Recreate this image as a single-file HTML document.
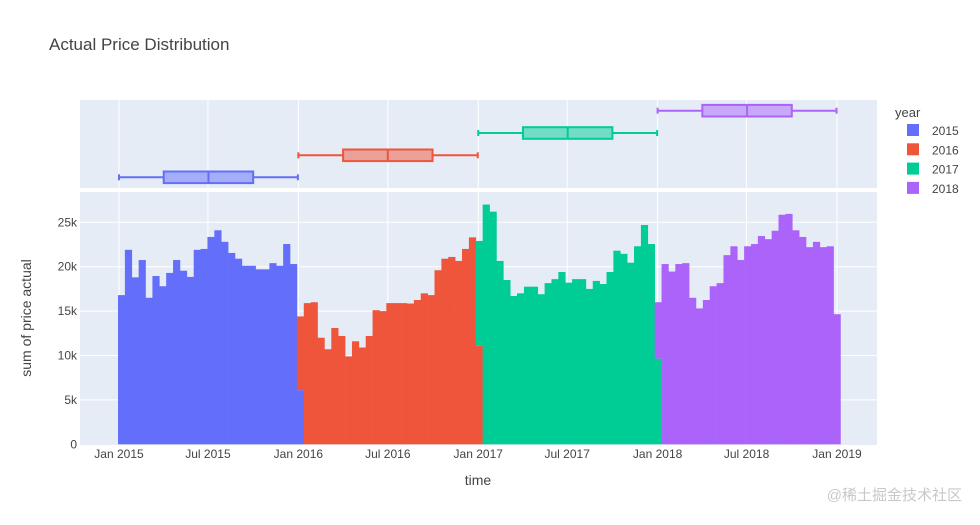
<!DOCTYPE html>
<html><head><meta charset="utf-8"><style>
body{margin:0;background:#fff;}
svg{display:block;font-family:"Liberation Sans","Noto Sans CJK SC",sans-serif;}
</style></head><body>
<svg id="c" width="980" height="525">
<text x="49" y="50" font-size="17" fill="#444">Actual Price Distribution</text>
<rect x="80" y="100" width="797" height="88" fill="#E5ECF6"/>
<rect x="80" y="192" width="797" height="253" fill="#E5ECF6"/>
<g id="grid"></g><g id="bars"></g><g id="boxes"></g><g id="axes"></g>
<text transform="translate(31,318) rotate(-90)" text-anchor="middle" font-size="14" fill="#444">sum of price actual</text>
<text x="478" y="485" text-anchor="middle" font-size="14" fill="#444">time</text>
<g>
<text x="895" y="117" font-size="13" fill="#444">year</text>
<g id="legend"></g>
</g>
<text x="962" y="500" text-anchor="end" font-size="15" fill="#c8c8c8">@稀土掘金技术社区</text>
</svg>
<script>
const years = ["2015","2016","2017","2018"];
const colors = ["#636EFA","#EF553B","#00CC96","#AB63FA"];
// values in thousands, 14-day bins starting 2014-12-30; each series starts at its bin index
const startBins = [0,26,52,78];
const y2015 = [16.8,21.9,18.8,20.75,16.5,18.95,17.8,19.3,20.75,19.55,18.85,21.9,22.0,23.35,24.1,22.8,21.55,20.9,20.1,20.1,19.7,19.7,20.4,20.1,22.55,20.3,6.1];
const y2016 = [8.3,15.9,16.0,12.0,10.7,13.1,12.2,9.9,11.6,10.9,12.2,15.1,15.0,15.9,15.9,15.9,15.85,16.25,17.0,16.8,19.6,20.9,21.1,20.65,22.0,23.3,11.1];
const y2017 = [11.8,27.0,26.2,20.65,18.5,16.7,17.0,17.75,17.75,16.9,18.15,18.6,19.4,18.2,18.6,18.6,17.5,18.4,18.05,19.4,21.8,21.45,20.45,22.3,24.7,22.55,9.65];
const y2018 = [6.35,20.3,19.45,20.3,20.4,16.5,15.3,16.25,17.8,18.15,21.3,22.3,20.75,22.3,22.55,23.45,23.1,24.05,25.85,25.95,24.1,23.35,22.2,22.8,22.2,22.3,14.65];
const yTicks = [0,5,10,15,20,25];
const yTickLabels = ["0","5k","10k","15k","20k","25k"];
const xTickDates = ["2015-01-01","2015-07-01","2016-01-01","2016-07-01","2017-01-01","2017-07-01","2018-01-01","2018-07-01","2019-01-01"];
const xTickLabels = ["Jan 2015","Jul 2015","Jan 2016","Jul 2016","Jan 2017","Jul 2017","Jan 2018","Jul 2018","Jan 2019"];
// box stats: min, q1, median, q3, max
const boxMin = ["2015-01-01","2016-01-01","2017-01-01","2018-01-01"];
const boxQ1 = ["2015-04-02","2016-04-01","2017-04-02","2018-04-02"];
const boxMed = ["2015-07-02","2016-07-01","2017-07-02","2018-07-02"];
const boxQ3 = ["2015-10-01","2016-09-30","2017-10-01","2018-10-01"];
const boxMax = ["2015-12-31","2016-12-31","2017-12-31","2018-12-31"];
const binStart = "2014-12-30", binDays = 14;

const NS="http://www.w3.org/2000/svg";
const d0=Date.parse("2015-01-01"), d1=Date.parse("2019-01-01");
function xs(d){const t=typeof d==="number"?d:Date.parse(d);return 119+(t-d0)/(d1-d0)*718;}
function ys(v){return 444.3-v*8.88;}
function mk(tag,attrs,parent){const e=document.createElementNS(NS,tag);for(const k in attrs)e.setAttribute(k,attrs[k]);parent.appendChild(e);return e;}
const grid=document.getElementById('grid'),bars=document.getElementById('bars'),boxes=document.getElementById('boxes'),axes=document.getElementById('axes'),legend=document.getElementById('legend');
xTickDates.forEach((d,i)=>{const x=xs(d);
 const l1=mk('line',{x1:x,x2:x,y1:100,y2:188,stroke:'#fff','stroke-width':1},grid);
 
 const l2=mk('line',{x1:x,x2:x,y1:192,y2:445,stroke:'#fff','stroke-width':1},grid);
 
 const t=mk('text',{x:x,y:458,'text-anchor':'middle','font-size':12,fill:'#444'},axes);t.textContent=xTickLabels[i];
 
});
yTicks.forEach((v,i)=>{const y=ys(v);
 if(v>0){const l=mk('line',{x1:80,x2:877,y1:y,y2:y,stroke:'#fff','stroke-width':1},grid);
 }
 const t=mk('text',{x:77,y:y+4,'text-anchor':'end','font-size':12,fill:'#444'},axes);t.textContent=yTickLabels[i];
 
});
const series=[y2015,y2016,y2017,y2018];
const base={};
const bs=Date.parse(binStart),bms=binDays*86400000;
series.forEach((arr,s)=>{arr.forEach((v,j)=>{const b=startBins[s]+j;const lo=base[b]||0;const hi=lo+v;base[b]=hi;
 const xa=xs(bs+b*bms),xb=xs(bs+(b+1)*bms);
 const r=mk('rect',{x:xa,y:ys(hi),width:xb-xa+0.3,height:ys(lo)-ys(hi),fill:colors[s]},bars);
 
});});
const rowY=[177.3,155.3,133,110.7];
years.forEach((yr,i)=>{const y=rowY[i],c=colors[i];
 const g=mk('g',{},boxes);
 mk('line',{x1:xs(boxMin[i]),x2:xs(boxQ1[i]),y1:y,y2:y,stroke:c,'stroke-width':2},g);
 mk('line',{x1:xs(boxQ3[i]),x2:xs(boxMax[i]),y1:y,y2:y,stroke:c,'stroke-width':2},g);
 mk('line',{x1:xs(boxMin[i]),x2:xs(boxMin[i]),y1:y-3,y2:y+3,stroke:c,'stroke-width':2},g);
 mk('line',{x1:xs(boxMax[i]),x2:xs(boxMax[i]),y1:y-3,y2:y+3,stroke:c,'stroke-width':2},g);
 mk('rect',{x:xs(boxQ1[i]),y:y-5.8,width:xs(boxQ3[i])-xs(boxQ1[i]),height:11.6,fill:c,'fill-opacity':0.5,stroke:c,'stroke-width':2},g);
 mk('line',{x1:xs(boxMed[i]),x2:xs(boxMed[i]),y1:y-5.8,y2:y+5.8,stroke:c,'stroke-width':2},g);
 const lg=mk('g',{},legend);
 mk('rect',{x:907,y:124+i*19.3,width:12,height:12,fill:c},lg);
 const t=mk('text',{x:932,y:135+i*19.3,'font-size':12,fill:'#444'},lg);t.textContent=yr;
});
</script>
</body></html>
